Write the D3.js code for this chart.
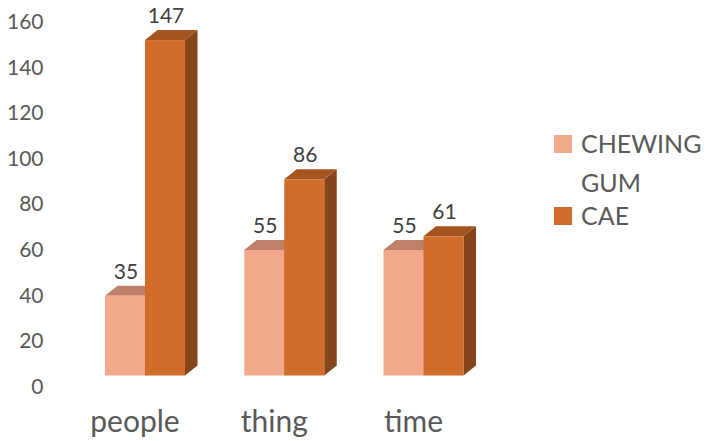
<!DOCTYPE html>
<html>
<head>
<meta charset="utf-8">
<script src="https://cdn.jsdelivr.net/npm/d3@7"></script>
<style>
  html, body { margin: 0; padding: 0; background: #fff; }
  svg { display: block; }
  text { font-family: Lato, "Open Sans", sans-serif; }
</style>
</head>
<body>
<svg id="chart" width="709" height="441"></svg>
<script>
// Word counts per category for the two sources
const categories = ["people", "thing", "time"];
const seriesNames = ["CHEWING GUM", "CAE"];
const chewingGum = [35, 55, 55];
const cae = [147, 86, 61];
const yTicks = [0, 20, 40, 60, 80, 100, 120, 140, 160];

const seriesValues = [chewingGum, cae];
const palette = [
  { front: "#F1A88B", top: "#BE8068", side: "#A7705B" },
  { front: "#D26C2B", top: "#A5541F", side: "#85451A" }
];

const svg = d3.select("#chart");

// Depth offset of the 3D boxes
const depthX = 12.5, depthY = -10;

const y = d3.scaleLinear().domain([0, 160]).range([375.5, 10.4]);
const xGroup = d3.scalePoint().domain(categories).range([145, 423.5]);
const xSeries = d3.scaleBand().domain(d3.range(seriesNames.length)).range([-40, 40]).padding(0);

// Value axis labels (drawn on the back wall, slightly lower than the front face)
svg.append("g").selectAll("text").data(yTicks).join("text")
  .attr("x", 43.5)
  .attr("y", d => y(d) + 10)
  .attr("text-anchor", "end")
  .attr("dominant-baseline", "central")
  .attr("fill", "#595959")
  .attr("font-size", 21)
  .text(d => d);

// Bars: series 0 first in each group so series 1 covers its side face
const barsG = svg.append("g");
categories.forEach((cat, ci) => {
  seriesValues.forEach((vals, si) => {
    const v = vals[ci];
    const x0 = xGroup(cat) + xSeries(si);
    const x1 = x0 + xSeries.bandwidth();
    const yt = y(v), yb = y(0);
    const c = palette[si];
    const g = barsG.append("g");
    // side face
    g.append("path")
      .attr("d", `M${x1},${yt} L${x1 + depthX},${yt + depthY} L${x1 + depthX},${yb + depthY} L${x1},${yb} Z`)
      .attr("fill", c.side);
    // top face
    g.append("path")
      .attr("d", `M${x0},${yt} L${x0 + depthX},${yt + depthY} L${x1 + depthX},${yt + depthY} L${x1},${yt} Z`)
      .attr("fill", c.top);
    // front face
    g.append("rect")
      .attr("x", x0).attr("y", yt)
      .attr("width", x1 - x0).attr("height", yb - yt)
      .attr("fill", c.front);
  });
});

// Value labels above each bar
const labelsG = svg.append("g");
categories.forEach((cat, ci) => {
  seriesValues.forEach((vals, si) => {
    const v = vals[ci];
    const cx = xGroup(cat) + xSeries(si) + xSeries.bandwidth() / 2;
    labelsG.append("text")
      .attr("x", cx + 1)
      .attr("y", y(v) - 17)
      .attr("text-anchor", "middle")
      .attr("fill", "#404040")
      .attr("font-size", 21)
      .text(v);
  });
});

// Category labels
svg.append("g").selectAll("text").data(categories).join("text")
  .attr("x", d => xGroup(d) - 10)
  .attr("y", 432)
  .attr("text-anchor", "middle")
  .attr("fill", "#595959")
  .attr("font-size", 30)
  .text(d => d);

// Legend
const legend = svg.append("g");
const legendRows = [
  { lines: ["CHEWING", "GUM"], y: 144, color: palette[0].front },
  { lines: ["CAE"], y: 216, color: palette[1].front }
];
legendRows.forEach(r => {
  legend.append("rect")
    .attr("x", 554).attr("y", r.y - 9)
    .attr("width", 18).attr("height", 18)
    .attr("fill", r.color);
  r.lines.forEach((ln, i) => {
    legend.append("text")
      .attr("x", 581)
      .attr("y", r.y + 8.5 + i * 39)
      .attr("fill", "#595959")
      .attr("font-size", 25)
      .text(ln);
  });
});
</script>
</body>
</html>
